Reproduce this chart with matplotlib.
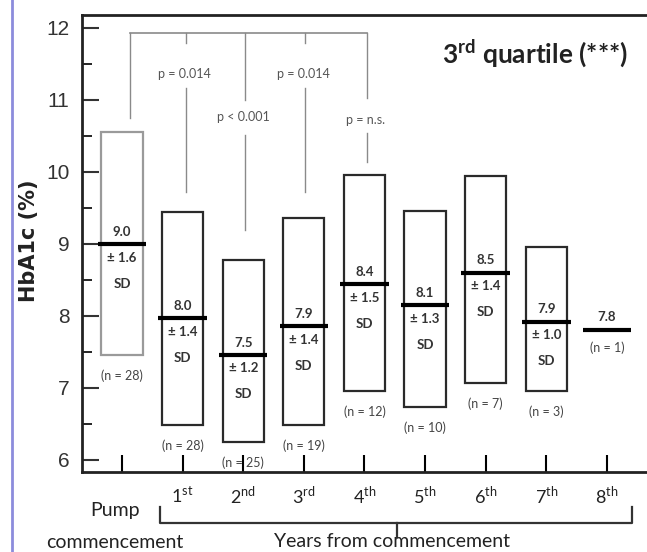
import numpy as np
import matplotlib
matplotlib.use('Agg')
import matplotlib.pyplot as plt
from matplotlib.lines import Line2D

plt.rcParams['mathtext.fontset'] = 'custom'
plt.rcParams['mathtext.rm'] = 'Lato'
plt.rcParams['mathtext.bf'] = 'Lato:bold'

# data
periods = ['Pump', '1st', '2nd', '3rd', '4th', '5th', '6th', '7th', '8th']
tick_labels = ['', r'1$^{\rm st}$', r'2$^{\rm nd}$', r'3$^{\rm rd}$', r'4$^{\rm th}$',
               r'5$^{\rm th}$', r'6$^{\rm th}$', r'7$^{\rm th}$', r'8$^{\rm th}$']
mean_hba1c = [9.0, 7.97, 7.46, 7.86, 8.44, 8.15, 8.60, 7.92, 7.81]
box_high = [10.56, 9.44, 8.78, 9.36, 9.96, 9.45, 9.94, 8.96, np.nan]
box_low = [7.46, 6.49, 6.25, 6.49, 6.96, 6.74, 7.07, 6.96, np.nan]
mean_text = ['9.0', '8.0', '7.5', '7.9', '8.4', '8.1', '8.5', '7.9', '7.8']
sd_text = ['1.6', '1.4', '1.2', '1.4', '1.5', '1.3', '1.4', '1.0', '']
n_patients = [28, 28, 25, 19, 12, 10, 7, 3, 1]

# p-value comparisons vs pump commencement
p_labels = ['p = 0.014', 'p < 0.001', 'p = 0.014', 'p = n.s.']

x = np.arange(len(periods))

fig = plt.figure(figsize=(6.47, 5.52), dpi=100)
ax = fig.add_axes([0.1267, 0.145, 0.8733, 0.828])

dark = '#2a2a2a'
gray = '#9a9a9a'

# SD boxes
hi = np.array(box_high)
lo = np.array(box_low)
edge = [gray] + [dark] * (len(x) - 1)
ax.bar(x[:-1], (hi - lo)[:-1], bottom=lo[:-1], width=0.68, fill=False,
       edgecolor=edge[:-1], linewidth=1.6)

# mean lines
ax.hlines(mean_hba1c, x - 0.4, x + 0.4, color='black', linewidth=3)

tkw = dict(ha='center', va='center', fontsize=9.5, family='Lato', fontweight='bold', color='#333333')
nkw = dict(ha='center', va='center', fontsize=9, family='Lato', color='#444444')
for i in range(len(x)):
    m = mean_hba1c[i]
    ax.text(x[i], m + 0.17, mean_text[i], **tkw)
    if sd_text[i]:
        ax.text(x[i], m - 0.19, '\u00b1 ' + sd_text[i], **tkw)
        ax.text(x[i], m - 0.55, 'SD', **tkw)
        ax.text(x[i], lo[i] - 0.29, '(n = %d)' % n_patients[i], **nkw)
    else:
        ax.text(x[i], m - 0.25, '(n = %d)' % n_patients[i], **nkw)

# comparison brackets
lc = '#8a8a8a'
top_y = 11.93
ax.plot([0.13, 4.04], [top_y, top_y], color=lc, lw=1.2)
ax.plot([0.13, 0.13], [top_y, 10.75], color=lc, lw=1.0)
drop_x = [1.06, 2.03, 3.02, 4.04]
gap_top = [11.79, 11.0, 11.79, 11.03]
txt_y = [11.36, 10.76, 11.36, 10.72]
gap_bot = [11.17, 10.51, 11.17, 10.54]
line_end = [9.72, 9.19, 9.72, 10.14]
for dx, gt, ty, gb, le, lab in zip(drop_x, gap_top, txt_y, gap_bot, line_end, p_labels):
    ax.plot([dx, dx], [top_y, gt], color=lc, lw=1.0)
    ax.plot([dx, dx], [gb, le], color=lc, lw=1.0)
    ax.text(dx - 0.03, ty, lab, ha='center', va='center', fontsize=9, family='Lato', color='#555555')

ax.text(6.82, 11.51, r'3$^{\bf rd}$ quartile (***)', ha='center', va='baseline',
        fontsize=19, fontweight='bold', family='Lato', color='#222222')

ax.set_xlim(-0.66, 8.66)
ax.set_ylim(5.833, 12.18)
ax.set_yticks(range(6, 13))
ax.set_yticks(np.arange(6.5, 12, 1), minor=True)
ax.set_xticks(x)
ax.set_xticklabels(tick_labels, fontsize=13, family='Lato', color='#222222')
ax.tick_params(axis='y', direction='in', length=12, width=1.5, pad=9, labelsize=15, colors='#333333')
ax.tick_params(axis='y', which='minor', direction='in', length=7, width=1.2)
ax.tick_params(axis='x', direction='in', length=12, width=1.5, pad=9)
for lab in ax.get_yticklabels():
    lab.set_family('Liberation Sans')

ax.spines['right'].set_visible(False)
for s in ['left', 'top', 'bottom']:
    ax.spines[s].set_linewidth(2)
    ax.spines[s].set_color('#222222')

ax.set_ylabel('HbA1c (%)', fontsize=15, fontweight='bold', color='#222222', va='center')
ax.yaxis.set_label_coords(-0.094, 0.505)

# labels below the axis
ax.text(-0.12, 5.30, 'Pump', ha='center', va='center', fontsize=14, family='Lato', color='#222222', clip_on=False)
ax.text(-0.12, 4.86, 'commencement', ha='center', va='center', fontsize=14, family='Lato', color='#222222', clip_on=False)
ax.plot([0.63, 0.63, 8.42, 8.42], [5.35, 5.125, 5.125, 5.35], color='#333333', lw=1.6, clip_on=False)
ax.plot([4.54, 4.54], [5.125, 4.93], color='#333333', lw=1.6, clip_on=False)
ax.text(4.45, 4.745, 'Years from commencement', ha='center', va='bottom', fontsize=14,
        family='Lato', color='#222222', clip_on=False)

fig.add_artist(Line2D([12 / 647, 12 / 647], [0, 1], color='#8c8cdc', lw=2))

fig.savefig('out.png', dpi=100)
